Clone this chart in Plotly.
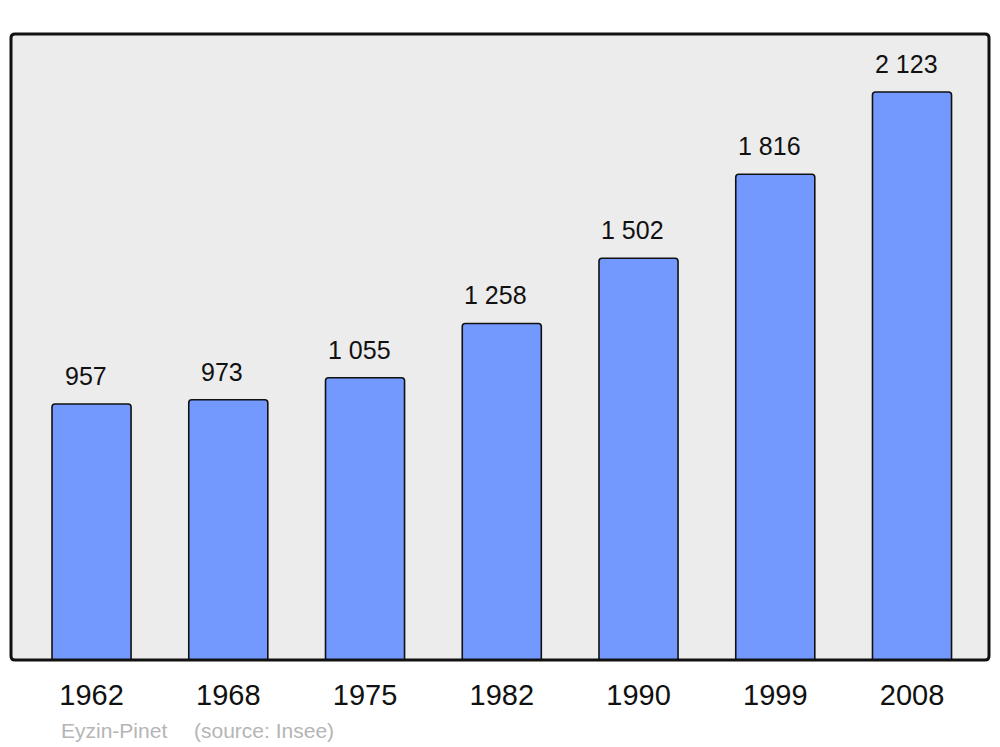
import plotly.graph_objects as go

years = ["1962", "1968", "1975", "1982", "1990", "1999", "2008"]
population = [957, 973, 1055, 1258, 1502, 1816, 2123]
value_labels = ["957", "973", "1 055", "1 258", "1 502", "1 816", "2 123"]
commune = "Eyzin-Pinet"
source = "(source: Insee)"

xs = list(range(len(years)))
FONT = "Liberation Sans, Arial, sans-serif"

fig = go.Figure()
fig.add_trace(go.Bar(
    x=xs, y=population, width=0.578,
    marker=dict(color="#7399FF", line=dict(color="#111111", width=1.6), cornerradius=3),
    hoverinfo="skip",
))

for x, v, t in zip(xs, population, value_labels):
    fig.add_annotation(x=x, y=v, text=t, showarrow=False, yanchor="middle",
                       yshift=28, xshift=-6, font=dict(size=25, color="#111111", family=FONT))

# rounded frame
W, H = 978.0, 626.0
r = 4.0
rx, ry = r / W, r / H
path = (f"M {rx},0 L {1-rx},0 Q 1,0 1,{ry} L 1,{1-ry} Q 1,1 {1-rx},1 "
        f"L {rx},1 Q 0,1 0,{1-ry} L 0,{ry} Q 0,0 {rx},0 Z")
fig.add_shape(type="path", xref="paper", yref="paper", path=path,
              line=dict(color="#111111", width=3), layer="above")

fig.add_annotation(xref="paper", yref="paper", x=(59 - 11) / W, y=-(730 - 660) / H,
                   xanchor="left", yanchor="middle", text=commune, showarrow=False,
                   font=dict(size=21, color="#b5b5b5", family=FONT))
fig.add_annotation(xref="paper", yref="paper", x=(192 - 11) / W, y=-(730 - 660) / H,
                   xanchor="left", yanchor="middle", text=source, showarrow=False,
                   font=dict(size=21, color="#b5b5b5", family=FONT))

# page body has an 8px margin; compensate so the plot area lands at 11..989 x 34..660
fig.update_layout(
    width=984, height=739,
    margin=dict(l=3, r=3, t=26, b=87),
    paper_bgcolor="white",
    plot_bgcolor="#ECECEC",
    showlegend=False,
    font=dict(family=FONT, color="#111111"),
    xaxis=dict(range=[-0.589, 6.563], tickmode="array", tickvals=xs, ticktext=years,
               showgrid=False, zeroline=False, showline=False, ticks="",
               tickfont=dict(size=29, color="#111111"), ticklabelstandoff=15),
    yaxis=dict(range=[0, 2340], showgrid=False, zeroline=False, showline=False,
               showticklabels=False, ticks=""),
)

fig.write_html("out.html")
